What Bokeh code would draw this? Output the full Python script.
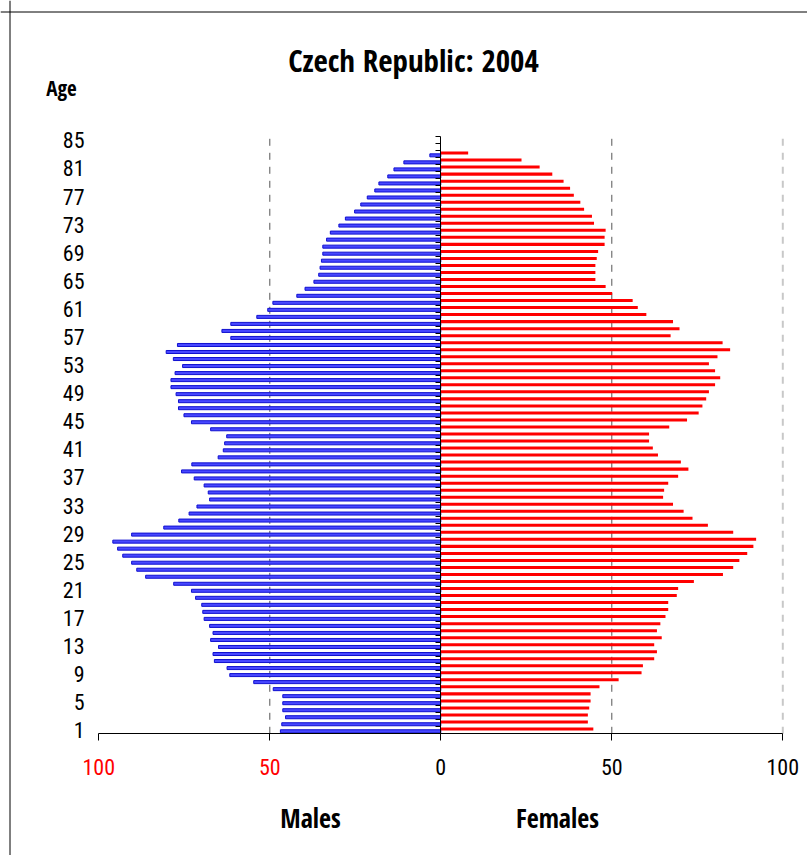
import numpy as np
from bokeh.plotting import figure
from bokeh.models import (Range1d, LinearAxis, FixedTicker, Span, Label,
                          ColumnDataSource, CustomJSTickFormatter)
from bokeh.embed import file_html
from bokeh.resources import INLINE

# ---------------- data ----------------
ages = list(range(1, 84))
males = [46.9, 46.5, 45.4, 46.2, 46.2, 46.2, 49.0, 54.7, 61.7, 62.5,
         66.2, 66.6, 65.0, 67.3, 66.6, 67.6, 69.2, 69.6, 69.9, 71.7,
         72.9, 78.1, 86.3, 88.9, 90.4, 93.0, 94.5, 95.9, 90.4, 81.0,
         76.6, 73.6, 71.3, 67.6, 68.0, 69.2, 72.1, 75.8, 72.8, 65.1,
         63.6, 63.2, 62.6, 67.3, 72.9, 75.1, 76.7, 76.7, 77.4, 78.9,
         78.9, 77.7, 75.5, 78.2, 80.3, 77.0, 61.4, 64.0, 61.4, 53.8,
         50.6, 49.1, 42.1, 39.7, 37.1, 35.7, 35.3, 34.9, 34.5, 34.5,
         33.4, 32.3, 29.8, 27.9, 25.2, 23.4, 21.5, 19.3, 18.1, 15.5,
         13.7, 10.8, 3.2]
females = [44.6, 43.0, 43.0, 43.4, 43.8, 43.8, 46.4, 52.0, 58.7, 59.1,
           62.4, 63.2, 62.4, 64.6, 63.2, 64.2, 65.7, 66.5, 66.5, 69.0,
           69.4, 74.0, 82.5, 85.5, 87.3, 89.6, 91.4, 92.2, 85.5, 78.1,
           73.6, 71.0, 67.9, 65.0, 65.3, 66.5, 69.4, 72.4, 70.2, 63.5,
           62.0, 60.9, 60.9, 66.8, 72.0, 75.4, 76.5, 77.6, 78.4, 80.2,
           81.7, 80.2, 78.4, 80.9, 84.6, 82.4, 67.2, 69.8, 67.9, 60.1,
           57.6, 56.1, 50.1, 48.2, 45.2, 45.2, 45.2, 45.6, 46.0, 47.9,
           47.9, 48.2, 44.8, 44.2, 41.9, 40.8, 38.9, 37.8, 35.9, 32.6,
           28.9, 23.6, 8.0]
age_ticks = list(range(1, 86, 4))
n_cats = 85
x_ticks_males = [-100, -50]
x_ticks_females = [0, 50, 100]
grid_dark = [-50, 50]
grid_light = [100]

title_text = "Czech Republic: 2004"

# ---------------- geometry helpers (page pixels -> data) ----------------
W, H = 807, 855
PX0, PXS = 440.3, 3.42          # page x of 0, px per unit
PY0, PYS = 733.3, 7.0235        # page y of category 0.5, px per category


def fx(px):
    return (px - PX0) / PXS


def fy(py):
    return 0.5 + (PY0 - py) / PYS


FONT_TICK = "Roboto Condensed, DejaVu Sans Condensed, sans-serif"
FONT_BOLD = "Open Sans Condensed, Roboto Condensed, sans-serif"

p = figure(width=W, height=H, output_backend="svg", toolbar_location=None,
           x_range=Range1d(fx(0), fx(W)), y_range=Range1d(fy(H), fy(0)),
           title=None, min_border=0, x_axis_type=None, y_axis_type=None)
p.xgrid.visible = False
p.ygrid.visible = False
p.outline_line_color = None
p.background_fill_color = "white"
p.border_fill_color = "white"

y_lo, y_hi = 0.5, n_cats + 0.5

# grid lines
p.segment(x0=grid_dark, y0=[y_lo] * len(grid_dark), x1=grid_dark, y1=[y_hi] * len(grid_dark),
          line_color="#555555", line_width=1, line_dash="7 7")
p.segment(x0=grid_light, y0=[y_lo] * len(grid_light), x1=grid_light, y1=[y_hi] * len(grid_light),
          line_color="#c8c8c8", line_width=2, line_dash="7 7")

ages_a = np.array(ages, dtype=float)
src_m = ColumnDataSource(dict(y=ages_a - 0.14, left=-np.array(males), right=np.zeros(len(ages))))
src_f = ColumnDataSource(dict(y=ages_a + 0.185, left=np.zeros(len(ages)), right=np.array(females)))

p.hbar(y="y", left="left", right="right", height=0.43, source=src_m,
       fill_color="#4848ff", line_color="#1010d0", line_width=1)
p.hbar(y="y", left="left", right="right", height=0.43, source=src_f,
       fill_color="#ff0000", line_color=None)


def make_xaxis(ticks, lo, hi, color):
    ax = LinearAxis(fixed_location=y_lo, bounds=(lo, hi), ticker=FixedTicker(ticks=ticks),
                    formatter=CustomJSTickFormatter(code="return String(Math.abs(tick))"))
    ax.axis_line_color = "black"
    ax.major_tick_line_color = "black"
    ax.major_tick_out = 7
    ax.major_tick_in = 0
    ax.minor_tick_line_color = None
    ax.major_label_text_color = color
    ax.major_label_text_font = FONT_TICK
    ax.major_label_text_font_size = "22px"
    ax.major_label_standoff = 18
    return ax


p.add_layout(make_xaxis(x_ticks_males, -100, 0, "#ff0000"), "below")
p.add_layout(make_xaxis(x_ticks_females, 0, 100, "black"), "below")

# central vertical axis with category-boundary ticks
ax_c = LinearAxis(fixed_location=0, bounds=(y_lo, y_hi),
                  ticker=FixedTicker(ticks=[k + 0.5 for k in range(0, n_cats + 1)]))
ax_c.axis_line_color = "black"
ax_c.major_tick_line_color = "black"
ax_c.major_tick_out = 5
ax_c.major_tick_in = 0
ax_c.minor_tick_line_color = None
ax_c.major_label_text_color = None
p.add_layout(ax_c, "left")

# age labels at the far left
ax_l = LinearAxis(fixed_location=fx(85), ticker=FixedTicker(ticks=age_ticks))
ax_l.axis_line_color = None
ax_l.major_tick_line_color = None
ax_l.major_tick_out = 0
ax_l.major_tick_in = 0
ax_l.minor_tick_line_color = None
ax_l.major_label_standoff = 1
ax_l.major_label_text_font = FONT_TICK
ax_l.major_label_text_font_size = "22px"
ax_l.major_label_text_color = "black"
p.add_layout(ax_l, "left")

# chart box (left and top edges visible)
p.add_layout(Span(location=fx(9.5), dimension="height", line_color="black", line_width=1))
p.add_layout(Span(location=fy(11.5), dimension="width", line_color="black", line_width=1))

# texts
p.add_layout(Label(x=fx(413), y=fy(59), text=title_text, text_align="center",
                   text_baseline="alphabetic", text_font=FONT_BOLD, text_font_size="31px",
                   text_font_style="bold", text_color="black"))
p.add_layout(Label(x=fx(61), y=fy(87), text="Age", text_align="center",
                   text_baseline="alphabetic", text_font=FONT_BOLD, text_font_size="21px",
                   text_font_style="bold", text_color="black"))
p.add_layout(Label(x=fx(310), y=fy(817), text="Males", text_align="center",
                   text_baseline="alphabetic", text_font=FONT_BOLD, text_font_size="26px",
                   text_font_style="bold", text_color="black"))
p.add_layout(Label(x=fx(557), y=fy(817), text="Females", text_align="center",
                   text_baseline="alphabetic", text_font=FONT_BOLD, text_font_size="26px",
                   text_font_style="bold", text_color="black"))

open("out.html", "w").write(file_html(p, INLINE))
